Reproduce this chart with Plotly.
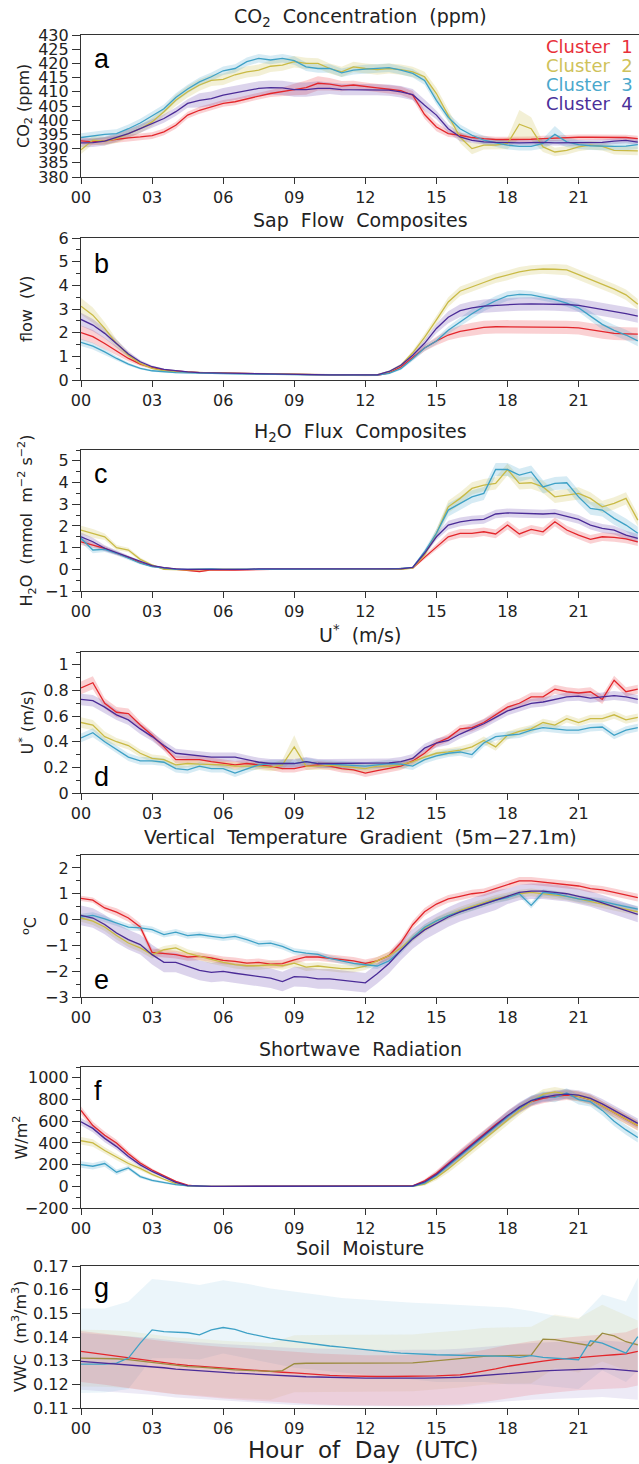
import plotly.graph_objects as go
from plotly.subplots import make_subplots

W, H = 639, 1464

hours = [0.0, 0.5, 1.0, 1.5, 2.0, 2.5, 3.0, 3.5, 4.0, 4.5, 5.0, 5.5,
         6.0, 6.5, 7.0, 7.5, 8.0, 8.5, 9.0, 9.5, 10.0, 10.5, 11.0, 11.5,
         12.0, 12.5, 13.0, 13.5, 14.0, 14.5, 15.0, 15.5, 16.0, 16.5, 17.0, 17.5,
         18.0, 18.5, 19.0, 19.5, 20.0, 20.5, 21.0, 21.5, 22.0, 22.5, 23.0, 23.5]
g_band_hours = [0, 1, 2, 3, 4, 5, 6, 7, 8, 9, 10, 11, 12, 13, 14, 15, 16, 17,
                18, 19, 20, 21, 22, 23, 23.5]
tick_hours = [0, 3, 6, 9, 12, 15, 18, 21]
tick_labels = ["00", "03", "06", "09", "12", "15", "18", "21"]
cluster_names = ["Cluster  1", "Cluster  2", "Cluster  3", "Cluster  4"]

# ---------------- (a) CO2 ----------------
a_c1 = [392.7, 392.4, 392.7, 393.3, 393.8, 394.1, 394.6, 395.9, 398.2, 401.8, 403.5, 404.7,
        405.9, 406.5, 407.6, 408.5, 409.4, 410.0, 410.8, 411.5, 413.0, 412.7, 412.0, 412.4,
        411.8, 411.4, 410.9, 410.4, 408.8, 402.0, 397.6, 395.3, 394.7, 393.9, 393.5, 393.2,
        393.2, 393.2, 393.3, 393.5, 393.7, 393.9, 394.0, 394.0, 394.0, 394.0, 393.9, 393.5]
a_c2 = [389.6, 393.0, 392.6, 393.5, 395.3, 397.0, 399.4, 403.0, 407.0, 410.0, 412.4, 414.0,
        414.4, 416.0, 417.0, 417.6, 419.0, 419.4, 420.6, 420.0, 420.0, 418.2, 417.0, 418.8,
        418.2, 417.8, 418.2, 417.8, 417.0, 415.3, 409.4, 401.8, 394.0, 390.0, 391.2, 391.2,
        391.8, 398.6, 397.0, 390.6, 388.8, 389.4, 390.6, 391.2, 390.8, 389.4, 389.2, 389.2]
a_c3 = [393.9, 394.5, 395.0, 395.3, 397.0, 399.0, 401.4, 404.0, 408.0, 411.0, 413.5, 415.3,
        417.4, 418.2, 420.6, 421.8, 421.2, 421.8, 421.0, 418.8, 418.2, 418.2, 416.7, 417.6,
        418.0, 418.2, 418.5, 417.6, 416.5, 414.0, 407.0, 401.0, 397.0, 394.7, 393.0, 392.0,
        391.2, 390.8, 390.8, 391.8, 395.0, 392.4, 391.4, 391.0, 390.8, 390.8, 390.9, 391.4]
a_c4 = [392.0, 392.1, 392.6, 393.9, 395.3, 397.0, 398.8, 400.6, 403.0, 405.9, 407.0, 407.6,
        408.8, 409.6, 410.4, 411.2, 411.5, 411.4, 410.8, 410.8, 411.2, 411.2, 410.8, 410.8,
        410.8, 410.8, 410.6, 410.0, 409.0, 405.3, 401.8, 397.0, 394.1, 392.9, 392.4, 392.2,
        392.0, 392.0, 392.1, 392.2, 392.0, 392.0, 392.0, 392.0, 392.2, 392.6, 392.9, 392.3]
a_s1 = [1.2, 1.2, 1.2, 1.2, 1.2, 1.2, 1.2, 1.2, 1.2, 1.2, 1.2, 1.2,
        1.2, 1.2, 1.2, 1.2, 1.2, 1.5, 2.0, 2.5, 2.5, 2.2, 1.8, 1.5,
        1.5, 1.5, 1.5, 1.5, 1.5, 1.5, 1.5, 1.2, 1.0, 1.0, 1.0, 1.0,
        1.0, 1.0, 1.0, 1.0, 1.0, 1.0, 1.0, 1.0, 1.0, 1.0, 1.0, 1.0]
a_s2 = [1.5, 1.5, 1.5, 1.5, 1.5, 1.5, 1.5, 1.5, 2.0, 2.0, 2.0, 2.0,
        2.0, 2.0, 2.0, 2.0, 2.0, 2.0, 2.0, 2.0, 1.8, 1.8, 1.8, 1.8,
        1.8, 1.8, 1.8, 1.8, 1.8, 1.8, 2.0, 2.0, 2.0, 2.0, 1.5, 1.5,
        2.0, 5.0, 4.0, 1.8, 1.5, 1.5, 1.5, 1.5, 1.5, 1.5, 1.5, 1.5]
a_s3 = [1.5, 1.5, 1.5, 1.5, 1.5, 1.5, 1.5, 1.5, 1.5, 1.5, 1.5, 1.5,
        1.5, 1.5, 1.5, 1.5, 1.5, 1.5, 1.5, 1.5, 1.5, 1.5, 1.5, 1.5,
        1.5, 1.5, 1.5, 1.5, 1.5, 1.5, 1.5, 1.5, 1.5, 1.5, 1.5, 1.5,
        1.5, 1.5, 1.5, 1.8, 3.0, 1.8, 1.5, 1.5, 1.5, 1.5, 1.5, 1.5]
a_s4 = [1.5, 1.5, 1.5, 1.5, 1.5, 1.5, 1.5, 1.5, 1.5, 1.5, 2.5, 2.5,
        2.5, 2.5, 2.5, 2.5, 2.5, 2.5, 2.5, 2.5, 2.5, 2.0, 2.0, 2.0,
        2.0, 2.0, 2.0, 2.0, 2.0, 2.0, 1.5, 1.5, 1.5, 1.0, 1.0, 1.0,
        1.0, 1.0, 1.0, 1.0, 1.0, 1.0, 1.0, 1.0, 1.0, 1.0, 1.0, 1.0]

# ---------------- (b) Sap flow ----------------
b_c1 = [2.00, 1.83, 1.54, 1.24, 0.91, 0.67, 0.52, 0.42, 0.37, 0.34, 0.31, 0.30,
        0.28, 0.27, 0.26, 0.25, 0.25, 0.24, 0.23, 0.23, 0.22, 0.22, 0.21, 0.21,
        0.19, 0.20, 0.30, 0.55, 0.95, 1.35, 1.65, 1.90, 2.05, 2.15, 2.22, 2.25,
        2.25, 2.24, 2.24, 2.24, 2.23, 2.22, 2.20, 2.12, 2.02, 1.97, 1.95, 1.94]
b_c2 = [3.12, 2.74, 2.18, 1.54, 1.05, 0.70, 0.49, 0.39, 0.34, 0.32, 0.31, 0.30,
        0.29, 0.28, 0.27, 0.26, 0.25, 0.24, 0.24, 0.23, 0.22, 0.22, 0.21, 0.21,
        0.21, 0.22, 0.35, 0.62, 1.15, 1.80, 2.54, 3.30, 3.75, 3.95, 4.12, 4.30,
        4.42, 4.57, 4.65, 4.69, 4.68, 4.65, 4.45, 4.25, 4.05, 3.84, 3.60, 3.20]
b_c3 = [1.59, 1.43, 1.19, 0.91, 0.67, 0.49, 0.39, 0.34, 0.31, 0.30, 0.28, 0.28,
        0.27, 0.26, 0.26, 0.25, 0.24, 0.24, 0.23, 0.22, 0.22, 0.21, 0.21, 0.20,
        0.20, 0.21, 0.28, 0.48, 0.90, 1.35, 1.65, 2.10, 2.45, 2.80, 3.10, 3.35,
        3.55, 3.62, 3.60, 3.50, 3.40, 3.25, 3.05, 2.70, 2.35, 2.10, 1.90, 1.65]
b_c4 = [2.56, 2.32, 1.97, 1.52, 1.10, 0.77, 0.56, 0.45, 0.38, 0.34, 0.31, 0.30,
        0.28, 0.28, 0.27, 0.26, 0.25, 0.25, 0.24, 0.23, 0.23, 0.22, 0.22, 0.21,
        0.21, 0.22, 0.36, 0.62, 1.05, 1.55, 2.18, 2.65, 2.93, 3.05, 3.12, 3.16,
        3.18, 3.21, 3.22, 3.22, 3.21, 3.19, 3.15, 3.07, 2.98, 2.90, 2.80, 2.70]
b_s1 = [0.30, 0.28, 0.24, 0.18, 0.12, 0.08, 0.05, 0.04, 0.03, 0.03, 0.03, 0.03,
        0.03, 0.03, 0.03, 0.03, 0.03, 0.03, 0.03, 0.03, 0.03, 0.03, 0.03, 0.03,
        0.03, 0.03, 0.04, 0.06, 0.10, 0.14, 0.18, 0.22, 0.25, 0.27, 0.28, 0.28,
        0.28, 0.28, 0.28, 0.28, 0.28, 0.28, 0.28, 0.28, 0.28, 0.28, 0.28, 0.28]
b_s2 = [0.35, 0.32, 0.26, 0.18, 0.12, 0.08, 0.05, 0.04, 0.03, 0.03, 0.03, 0.03,
        0.03, 0.03, 0.03, 0.03, 0.03, 0.03, 0.03, 0.03, 0.03, 0.03, 0.03, 0.03,
        0.03, 0.03, 0.04, 0.06, 0.10, 0.15, 0.18, 0.20, 0.20, 0.20, 0.20, 0.20,
        0.20, 0.20, 0.20, 0.20, 0.22, 0.22, 0.22, 0.22, 0.22, 0.22, 0.22, 0.22]
b_s3 = [0.15, 0.14, 0.12, 0.09, 0.07, 0.05, 0.04, 0.03, 0.03, 0.03, 0.03, 0.03,
        0.03, 0.03, 0.03, 0.03, 0.03, 0.03, 0.03, 0.03, 0.03, 0.03, 0.03, 0.03,
        0.03, 0.03, 0.04, 0.06, 0.10, 0.12, 0.14, 0.16, 0.18, 0.20, 0.20, 0.20,
        0.20, 0.18, 0.16, 0.15, 0.15, 0.15, 0.17, 0.20, 0.22, 0.22, 0.22, 0.22]
b_s4 = [0.28, 0.26, 0.22, 0.16, 0.11, 0.07, 0.05, 0.04, 0.03, 0.03, 0.03, 0.03,
        0.03, 0.03, 0.03, 0.03, 0.03, 0.03, 0.03, 0.03, 0.03, 0.03, 0.03, 0.03,
        0.03, 0.03, 0.04, 0.06, 0.10, 0.15, 0.20, 0.25, 0.27, 0.28, 0.28, 0.28,
        0.28, 0.28, 0.28, 0.28, 0.28, 0.28, 0.28, 0.28, 0.28, 0.28, 0.28, 0.28]

# ---------------- (c) H2O flux ----------------
c_c1 = [1.27, 1.12, 0.97, 0.74, 0.55, 0.31, 0.15, 0.06, 0.00, -0.05, -0.10, -0.03,
        -0.05, -0.04, -0.02, 0.00, 0.00, 0.00, 0.01, 0.00, 0.00, 0.00, 0.01, 0.00,
        0.00, 0.00, 0.01, 0.02, 0.05, 0.55, 1.04, 1.50, 1.66, 1.66, 1.73, 1.63,
        2.04, 1.63, 1.84, 1.73, 2.19, 1.81, 1.58, 1.38, 1.50, 1.47, 1.40, 1.27]
c_c2 = [1.81, 1.66, 1.50, 1.00, 0.89, 0.46, 0.20, 0.00, -0.02, -0.02, -0.01, 0.00,
        0.02, 0.00, 0.00, 0.00, 0.00, 0.00, 0.00, 0.01, 0.00, 0.00, 0.00, 0.00,
        0.00, 0.00, 0.00, 0.00, 0.05, 0.66, 1.66, 2.88, 3.27, 3.73, 3.88, 3.96,
        4.60, 3.96, 3.99, 3.80, 3.34, 3.42, 3.50, 3.27, 2.88, 3.04, 3.27, 2.27]
c_c3 = [1.43, 0.89, 0.92, 0.74, 0.51, 0.28, 0.12, 0.05, 0.00, 0.00, 0.02, 0.02,
        0.00, 0.00, 0.00, 0.00, 0.02, 0.00, 0.00, 0.00, 0.00, 0.00, 0.03, 0.02,
        0.00, 0.00, 0.02, 0.04, 0.09, 0.81, 1.66, 2.73, 3.04, 3.34, 3.50, 4.60,
        4.60, 4.34, 4.49, 3.80, 3.96, 3.99, 3.34, 2.81, 2.73, 2.35, 2.04, 1.66]
c_c4 = [1.50, 1.27, 0.97, 0.77, 0.58, 0.35, 0.17, 0.08, 0.02, 0.00, 0.00, 0.00,
        -0.02, -0.02, 0.00, 0.02, 0.02, 0.00, 0.00, 0.00, 0.00, 0.00, 0.00, 0.00,
        0.00, 0.00, 0.00, 0.02, 0.09, 0.74, 1.50, 2.04, 2.19, 2.27, 2.30, 2.55,
        2.60, 2.58, 2.58, 2.55, 2.58, 2.45, 2.30, 2.04, 1.89, 1.81, 1.58, 1.43]
c_s1 = [0.15, 0.13, 0.10, 0.08, 0.06, 0.05, 0.04, 0.03, 0.03, 0.03, 0.03, 0.03,
        0.03, 0.03, 0.03, 0.03, 0.03, 0.03, 0.03, 0.03, 0.03, 0.03, 0.03, 0.03,
        0.03, 0.03, 0.03, 0.03, 0.03, 0.10, 0.15, 0.20, 0.20, 0.20, 0.20, 0.20,
        0.20, 0.20, 0.20, 0.20, 0.20, 0.20, 0.20, 0.20, 0.20, 0.20, 0.20, 0.20]
c_s2 = [0.20, 0.20, 0.15, 0.12, 0.10, 0.08, 0.05, 0.03, 0.03, 0.03, 0.03, 0.03,
        0.03, 0.03, 0.03, 0.03, 0.03, 0.03, 0.03, 0.03, 0.03, 0.03, 0.03, 0.03,
        0.03, 0.03, 0.03, 0.03, 0.03, 0.10, 0.20, 0.28, 0.28, 0.28, 0.28, 0.28,
        0.28, 0.28, 0.28, 0.28, 0.28, 0.28, 0.28, 0.28, 0.28, 0.28, 0.28, 0.28]
c_s3 = [0.20, 0.15, 0.12, 0.10, 0.08, 0.06, 0.04, 0.03, 0.03, 0.03, 0.03, 0.03,
        0.03, 0.03, 0.03, 0.03, 0.03, 0.03, 0.03, 0.03, 0.03, 0.03, 0.03, 0.03,
        0.03, 0.03, 0.03, 0.03, 0.03, 0.10, 0.20, 0.30, 0.30, 0.30, 0.30, 0.30,
        0.30, 0.30, 0.30, 0.30, 0.30, 0.30, 0.30, 0.30, 0.30, 0.30, 0.30, 0.30]
c_s4 = [0.20, 0.18, 0.14, 0.10, 0.08, 0.06, 0.04, 0.03, 0.03, 0.03, 0.03, 0.03,
        0.03, 0.03, 0.03, 0.03, 0.03, 0.03, 0.03, 0.03, 0.03, 0.03, 0.03, 0.03,
        0.03, 0.03, 0.03, 0.03, 0.03, 0.10, 0.15, 0.20, 0.20, 0.20, 0.20, 0.20,
        0.20, 0.20, 0.20, 0.20, 0.20, 0.20, 0.20, 0.20, 0.20, 0.20, 0.20, 0.20]

# ---------------- (d) U* ----------------
d_c1 = [0.82, 0.86, 0.70, 0.63, 0.62, 0.53, 0.45, 0.36, 0.26, 0.26, 0.26, 0.245,
        0.23, 0.22, 0.23, 0.22, 0.21, 0.19, 0.19, 0.21, 0.22, 0.21, 0.19, 0.18,
        0.155, 0.175, 0.19, 0.21, 0.25, 0.31, 0.39, 0.43, 0.50, 0.51, 0.55, 0.61,
        0.67, 0.70, 0.75, 0.75, 0.81, 0.79, 0.78, 0.79, 0.73, 0.88, 0.79, 0.81]
d_c2 = [0.55, 0.53, 0.44, 0.40, 0.37, 0.31, 0.27, 0.26, 0.22, 0.23, 0.225, 0.225,
        0.22, 0.21, 0.21, 0.21, 0.20, 0.22, 0.36, 0.21, 0.21, 0.215, 0.21, 0.20,
        0.19, 0.21, 0.21, 0.22, 0.245, 0.28, 0.31, 0.32, 0.335, 0.36, 0.41, 0.36,
        0.45, 0.48, 0.50, 0.55, 0.53, 0.58, 0.55, 0.58, 0.58, 0.61, 0.57, 0.59]
d_c3 = [0.43, 0.47, 0.40, 0.34, 0.28, 0.25, 0.25, 0.24, 0.19, 0.18, 0.21, 0.19,
        0.19, 0.155, 0.19, 0.22, 0.23, 0.23, 0.23, 0.245, 0.23, 0.225, 0.22, 0.21,
        0.21, 0.22, 0.23, 0.225, 0.21, 0.26, 0.29, 0.31, 0.32, 0.30, 0.39, 0.44,
        0.45, 0.46, 0.49, 0.51, 0.50, 0.49, 0.49, 0.51, 0.515, 0.45, 0.49, 0.51]
d_c4 = [0.73, 0.72, 0.67, 0.61, 0.57, 0.50, 0.44, 0.37, 0.31, 0.30, 0.29, 0.28,
        0.28, 0.28, 0.26, 0.24, 0.23, 0.23, 0.23, 0.245, 0.23, 0.23, 0.23, 0.23,
        0.23, 0.23, 0.235, 0.245, 0.27, 0.35, 0.39, 0.41, 0.46, 0.50, 0.54, 0.59,
        0.64, 0.67, 0.70, 0.71, 0.73, 0.75, 0.755, 0.74, 0.75, 0.76, 0.75, 0.73]
d_s1 = [0.05, 0.05, 0.04, 0.04, 0.04, 0.03, 0.03, 0.03, 0.03, 0.03, 0.03, 0.03,
        0.03, 0.03, 0.03, 0.03, 0.03, 0.03, 0.03, 0.03, 0.03, 0.03, 0.03, 0.03,
        0.03, 0.03, 0.03, 0.03, 0.03, 0.03, 0.03, 0.03, 0.03, 0.03, 0.03, 0.03,
        0.035, 0.035, 0.035, 0.035, 0.035, 0.035, 0.035, 0.035, 0.035, 0.035, 0.035, 0.035]
d_s2 = [0.04, 0.04, 0.04, 0.03, 0.03, 0.03, 0.03, 0.03, 0.03, 0.03, 0.03, 0.03,
        0.03, 0.03, 0.03, 0.03, 0.03, 0.04, 0.09, 0.03, 0.03, 0.03, 0.03, 0.03,
        0.03, 0.03, 0.03, 0.03, 0.03, 0.03, 0.03, 0.03, 0.03, 0.03, 0.03, 0.03,
        0.03, 0.03, 0.03, 0.03, 0.03, 0.03, 0.03, 0.03, 0.03, 0.03, 0.03, 0.03]
d_s3 = [0.035, 0.035, 0.03, 0.03, 0.03, 0.03, 0.03, 0.03, 0.03, 0.03, 0.03, 0.03,
        0.03, 0.03, 0.03, 0.03, 0.03, 0.03, 0.03, 0.03, 0.03, 0.03, 0.03, 0.03,
        0.03, 0.03, 0.03, 0.03, 0.03, 0.03, 0.03, 0.03, 0.03, 0.03, 0.03, 0.03,
        0.03, 0.03, 0.03, 0.03, 0.03, 0.03, 0.03, 0.03, 0.03, 0.03, 0.03, 0.03]
d_s4 = [0.045, 0.045, 0.045, 0.04, 0.04, 0.04, 0.035, 0.035, 0.035, 0.035, 0.035, 0.035,
        0.035, 0.035, 0.035, 0.035, 0.035, 0.035, 0.035, 0.035, 0.035, 0.035, 0.035, 0.035,
        0.035, 0.035, 0.035, 0.035, 0.035, 0.035, 0.035, 0.035, 0.035, 0.035, 0.035, 0.035,
        0.035, 0.035, 0.035, 0.035, 0.035, 0.035, 0.035, 0.035, 0.035, 0.035, 0.035, 0.035]

# ---------------- (e) vertical temperature gradient ----------------
e_c1 = [0.82, 0.75, 0.45, 0.29, 0.06, -0.29, -1.27, -1.32, -1.36, -1.45, -1.43, -1.49,
        -1.58, -1.62, -1.69, -1.66, -1.73, -1.71, -1.56, -1.45, -1.45, -1.50, -1.55, -1.60,
        -1.70, -1.60, -1.40, -0.90, -0.20, 0.30, 0.60, 0.80, 0.90, 1.00, 1.05, 1.20,
        1.35, 1.50, 1.50, 1.45, 1.40, 1.35, 1.30, 1.20, 1.15, 1.05, 0.95, 0.85]
e_c2 = [0.06, -0.06, -0.29, -0.62, -0.91, -1.10, -1.36, -1.17, -1.10, -1.30, -1.43, -1.56,
        -1.66, -1.75, -1.79, -1.79, -1.75, -1.79, -1.69, -1.84, -1.80, -1.85, -1.90, -1.90,
        -1.80, -1.60, -1.40, -1.10, -0.70, -0.35, -0.05, 0.15, 0.35, 0.50, 0.65, 0.80,
        0.90, 1.00, 1.05, 1.00, 0.95, 0.90, 0.80, 0.70, 0.60, 0.50, 0.40, 0.30]
e_c3 = [0.10, 0.16, 0.03, -0.13, -0.29, -0.32, -0.39, -0.58, -0.49, -0.62, -0.58, -0.65,
        -0.71, -0.65, -0.78, -0.94, -0.91, -1.04, -1.23, -1.30, -1.35, -1.50, -1.60, -1.70,
        -1.75, -1.80, -1.60, -1.20, -0.70, -0.30, -0.05, 0.15, 0.30, 0.45, 0.60, 0.75,
        0.85, 1.00, 0.55, 1.05, 1.00, 0.90, 0.80, 0.75, 0.70, 0.60, 0.50, 0.40]
e_c4 = [0.16, 0.06, -0.19, -0.52, -0.78, -0.97, -1.36, -1.66, -1.66, -1.82, -1.97, -2.05,
        -2.01, -2.08, -2.14, -2.21, -2.27, -2.40, -2.21, -2.23, -2.30, -2.30, -2.35, -2.40,
        -2.45, -2.10, -1.70, -1.20, -0.75, -0.40, -0.15, 0.10, 0.30, 0.45, 0.60, 0.75,
        0.90, 1.05, 1.10, 1.10, 1.05, 1.00, 0.90, 0.80, 0.65, 0.50, 0.35, 0.20]
e_s1 = [0.10, 0.10, 0.12, 0.15, 0.15, 0.15, 0.15, 0.15, 0.15, 0.15, 0.15, 0.15,
        0.15, 0.15, 0.15, 0.15, 0.15, 0.15, 0.15, 0.15, 0.15, 0.15, 0.15, 0.15,
        0.15, 0.15, 0.15, 0.15, 0.15, 0.15, 0.15, 0.15, 0.15, 0.15, 0.15, 0.15,
        0.15, 0.15, 0.15, 0.15, 0.15, 0.15, 0.15, 0.15, 0.15, 0.15, 0.15, 0.15]
e_s2 = [0.15, 0.15, 0.15, 0.15, 0.15, 0.15, 0.15, 0.15, 0.15, 0.15, 0.15, 0.15,
        0.15, 0.15, 0.15, 0.15, 0.15, 0.15, 0.15, 0.15, 0.15, 0.15, 0.15, 0.15,
        0.15, 0.15, 0.15, 0.15, 0.15, 0.15, 0.15, 0.15, 0.15, 0.15, 0.15, 0.15,
        0.15, 0.15, 0.15, 0.15, 0.15, 0.15, 0.15, 0.15, 0.15, 0.15, 0.15, 0.15]
e_s3 = [0.12, 0.12, 0.12, 0.12, 0.12, 0.12, 0.12, 0.12, 0.12, 0.12, 0.12, 0.12,
        0.12, 0.12, 0.12, 0.12, 0.12, 0.12, 0.12, 0.12, 0.12, 0.12, 0.12, 0.12,
        0.12, 0.12, 0.12, 0.12, 0.12, 0.12, 0.12, 0.12, 0.12, 0.12, 0.12, 0.12,
        0.12, 0.12, 0.12, 0.12, 0.12, 0.12, 0.12, 0.12, 0.12, 0.12, 0.12, 0.12]
e_s4 = [0.38, 0.38, 0.38, 0.38, 0.38, 0.38, 0.38, 0.38, 0.38, 0.38, 0.38, 0.38,
        0.38, 0.38, 0.38, 0.38, 0.38, 0.38, 0.38, 0.38, 0.38, 0.38, 0.38, 0.38,
        0.38, 0.38, 0.38, 0.38, 0.38, 0.38, 0.38, 0.38, 0.38, 0.38, 0.38, 0.38,
        0.30, 0.30, 0.30, 0.30, 0.30, 0.30, 0.30, 0.30, 0.30, 0.30, 0.30, 0.30]

# ---------------- (f) shortwave radiation ----------------
f_c1 = [700, 560, 470, 400, 300, 215, 150, 95, 45, 10, 0, 0,
        0, 0, 0, 0, 0, 0, 0, 0, 0, 0, 0, 0,
        0, 0, 0, 0, 5, 50, 120, 210, 300, 390, 480, 570,
        650, 720, 780, 810, 830, 840, 830, 800, 740, 680, 620, 560]
f_c2 = [420, 400, 330, 270, 210, 165, 110, 65, 25, 5, 0, 0,
        0, 0, 0, 0, 0, 0, 0, 0, 0, 0, 0, 0,
        0, 0, 0, 0, 0, 20, 80, 160, 250, 340, 430, 520,
        610, 700, 780, 850, 870, 850, 830, 800, 740, 680, 620, 560]
f_c3 = [200, 185, 210, 130, 170, 90, 55, 35, 15, 5, 0, 0,
        0, 0, 0, 0, 0, 0, 0, 0, 0, 0, 0, 0,
        0, 0, 0, 0, 0, 30, 100, 190, 280, 370, 460, 550,
        640, 720, 790, 830, 820, 860, 800, 780, 700, 600, 520, 450]
f_c4 = [595, 534, 442, 366, 274, 198, 137, 85, 37, 6, 0, 0,
        0, 0, 0, 0, 0, 0, 0, 0, 0, 0, 0, 0,
        0, 0, 0, 0, 3, 40, 110, 200, 290, 380, 470, 560,
        650, 730, 790, 820, 840, 850, 840, 810, 760, 700, 640, 580]
f_s1 = [35, 35, 35, 30, 25, 20, 15, 10, 8, 5, 2, 2,
        2, 2, 2, 2, 2, 2, 2, 2, 2, 2, 2, 2,
        2, 2, 2, 2, 5, 15, 25, 35, 40, 40, 40, 40,
        45, 45, 45, 45, 45, 45, 45, 45, 45, 45, 45, 45]
f_s2 = [35, 35, 30, 30, 25, 20, 15, 10, 8, 5, 2, 2,
        2, 2, 2, 2, 2, 2, 2, 2, 2, 2, 2, 2,
        2, 2, 2, 2, 5, 15, 25, 35, 40, 40, 40, 40,
        45, 45, 45, 45, 45, 45, 45, 45, 45, 45, 45, 45]
f_s3 = [30, 30, 30, 25, 20, 15, 12, 10, 8, 5, 2, 2,
        2, 2, 2, 2, 2, 2, 2, 2, 2, 2, 2, 2,
        2, 2, 2, 2, 5, 15, 25, 35, 40, 40, 40, 40,
        45, 45, 45, 45, 45, 45, 45, 45, 45, 45, 45, 45]
f_s4 = [35, 35, 35, 30, 25, 20, 15, 10, 8, 5, 2, 2,
        2, 2, 2, 2, 2, 2, 2, 2, 2, 2, 2, 2,
        2, 2, 2, 2, 5, 15, 25, 35, 40, 40, 40, 40,
        45, 45, 45, 45, 45, 45, 45, 45, 45, 45, 45, 45]

# ---------------- (g) soil moisture ----------------
g_c1 = [0.1339, 0.1332, 0.1325, 0.1318, 0.1311, 0.1304, 0.1297, 0.1291, 0.1285, 0.1280, 0.1276, 0.1272,
        0.1269, 0.1265, 0.1262, 0.1258, 0.1255, 0.1251, 0.1248, 0.1244, 0.1240, 0.1238, 0.1236, 0.1234,
        0.1233, 0.1233, 0.1233, 0.1233, 0.1233, 0.1234, 0.1236, 0.1238, 0.1240, 0.1247, 0.1255, 0.1265,
        0.1276, 0.1284, 0.1292, 0.1298, 0.1304, 0.1309, 0.1314, 0.1318, 0.1321, 0.1325, 0.1329, 0.1339]
g_c2 = [0.1311, 0.1311, 0.1310, 0.1308, 0.1304, 0.1298, 0.1292, 0.1285, 0.1278, 0.1275, 0.1273, 0.1268,
        0.1264, 0.1261, 0.1259, 0.1257, 0.1255, 0.1258, 0.1287, 0.1289, 0.1290, 0.1290, 0.1290, 0.1290,
        0.1290, 0.1290, 0.1290, 0.1290, 0.1291, 0.1295, 0.1300, 0.1303, 0.1307, 0.1312, 0.1318, 0.1320,
        0.1322, 0.1322, 0.1323, 0.1391, 0.1389, 0.1380, 0.1370, 0.1363, 0.1416, 0.1405, 0.1380, 0.1367]
g_c3 = [0.1285, 0.1285, 0.1286, 0.1290, 0.1311, 0.1374, 0.1430, 0.1423, 0.1419, 0.1418, 0.1409, 0.1430,
        0.1440, 0.1432, 0.1416, 0.1405, 0.1395, 0.1388, 0.1381, 0.1374, 0.1367, 0.1362, 0.1357, 0.1351,
        0.1346, 0.1341, 0.1336, 0.1332, 0.1329, 0.1327, 0.1325, 0.1324, 0.1323, 0.1322, 0.1321, 0.1320,
        0.1318, 0.1314, 0.1321, 0.1314, 0.1311, 0.1307, 0.1304, 0.1384, 0.1374, 0.1353, 0.1332, 0.1402]
g_c4 = [0.1297, 0.1293, 0.1290, 0.1287, 0.1283, 0.1280, 0.1276, 0.1270, 0.1264, 0.1260, 0.1256, 0.1253,
        0.1250, 0.1247, 0.1245, 0.1242, 0.1239, 0.1236, 0.1233, 0.1232, 0.1231, 0.1229, 0.1228, 0.1227,
        0.1226, 0.1226, 0.1225, 0.1225, 0.1226, 0.1226, 0.1226, 0.1228, 0.1230, 0.1234, 0.1238, 0.1243,
        0.1248, 0.1252, 0.1255, 0.1257, 0.1259, 0.1260, 0.1262, 0.1264, 0.1266, 0.1263, 0.1258, 0.1255]
# band limits (hourly)
g_lo1 = [0.1210, 0.1198, 0.1185, 0.1170, 0.1158, 0.1148, 0.1140, 0.1133, 0.1126, 0.1120, 0.1115, 0.1112,
         0.1110, 0.1110, 0.1110, 0.1112, 0.1115, 0.1125, 0.1140, 0.1155, 0.1165, 0.1175, 0.1180, 0.1185, 0.1195]
g_hi1 = [0.1425, 0.1415, 0.1402, 0.1388, 0.1376, 0.1366, 0.1358, 0.1352, 0.1345, 0.1338, 0.1330, 0.1326,
         0.1323, 0.1323, 0.1323, 0.1326, 0.1330, 0.1345, 0.1366, 0.1382, 0.1394, 0.1404, 0.1411, 0.1420, 0.1440]
g_lo2 = [0.1191, 0.1190, 0.1184, 0.1172, 0.1158, 0.1153, 0.1144, 0.1139, 0.1135, 0.1167, 0.1170, 0.1170,
         0.1170, 0.1170, 0.1171, 0.1180, 0.1187, 0.1198, 0.1202, 0.1203, 0.1269, 0.1250, 0.1296, 0.1260, 0.1247]
g_hi2 = [0.1431, 0.1430, 0.1424, 0.1412, 0.1398, 0.1393, 0.1384, 0.1379, 0.1375, 0.1407, 0.1410, 0.1410,
         0.1410, 0.1410, 0.1411, 0.1420, 0.1427, 0.1438, 0.1442, 0.1443, 0.1495, 0.1480, 0.1536, 0.1490, 0.1470]
g_lo3 = [0.1163, 0.1165, 0.1180, 0.1310, 0.1310, 0.1305, 0.1330, 0.1310, 0.1290, 0.1270, 0.1260, 0.1250,
         0.1240, 0.1230, 0.1220, 0.1210, 0.1210, 0.1210, 0.1200, 0.1200, 0.1190, 0.1180, 0.1260, 0.1210, 0.1260]
g_hi3 = [0.1520, 0.1520, 0.1550, 0.1645, 0.1635, 0.1620, 0.1640, 0.1625, 0.1605, 0.1590, 0.1578, 0.1565,
         0.1558, 0.1550, 0.1545, 0.1540, 0.1535, 0.1530, 0.1525, 0.1510, 0.1490, 0.1475, 0.1580, 0.1550, 0.1650]
g_lo4 = [0.1177, 0.1170, 0.1163, 0.1156, 0.1144, 0.1136, 0.1130, 0.1125, 0.1119, 0.1113, 0.1111, 0.1108,
         0.1106, 0.1105, 0.1106, 0.1106, 0.1110, 0.1118, 0.1128, 0.1135, 0.1139, 0.1142, 0.1146, 0.1138, 0.1135]
g_hi4 = [0.1417, 0.1410, 0.1403, 0.1396, 0.1384, 0.1376, 0.1370, 0.1365, 0.1359, 0.1353, 0.1351, 0.1348,
         0.1346, 0.1345, 0.1346, 0.1346, 0.1350, 0.1358, 0.1368, 0.1375, 0.1379, 0.1382, 0.1386, 0.1378, 0.1375]

# ---------------- styling ----------------
line_colors = ["#e3262b", "#c9ba45", "#3ea1c6", "#4a2b97"]
band_rgb = [(232, 45, 55), (200, 185, 70), (70, 165, 205), (95, 60, 170)]
g_line_colors = ["#e3262b", "#9c8c40", "#3ea1c6", "#4a2b97"]
legend_colors = ["#e8303a", "#cfc25a", "#4aa8cc", "#4b2f9a"]
FONT = "DejaVu Sans"

panels = [
    dict(title="CO<sub>2</sub>  Concentration  (ppm)", ylab="CO<sub>2</sub> (ppm)", letter="a",
         vals=[a_c1, a_c2, a_c3, a_c4], spr=[a_s1, a_s2, a_s3, a_s4],
         yr=[380, 430], dt=5, minor=None, fmt=None, top=35, bot=177, ly=59),
    dict(title="Sap  Flow  Composites", ylab="flow  (V)", letter="b",
         vals=[b_c1, b_c2, b_c3, b_c4], spr=[b_s1, b_s2, b_s3, b_s4],
         yr=[0, 6], dt=1, minor=0.5, fmt=None, top=238, bot=380, ly=264),
    dict(title="H<sub>2</sub>O  Flux  Composites", ylab="H<sub>2</sub>O  (mmol  m<sup>−2</sup> s<sup>−2</sup>)", letter="c",
         vals=[c_c1, c_c2, c_c3, c_c4], spr=[c_s1, c_s2, c_s3, c_s4],
         yr=[-1, 5.5], dt=1, minor=0.5, fmt=None, top=450, bot=591, ly=474),
    dict(title="U<sup>*</sup>  (m/s)", ylab="U<sup>*</sup> (m/s)", letter="d",
         vals=[d_c1, d_c2, d_c3, d_c4], spr=[d_s1, d_s2, d_s3, d_s4],
         yr=[0, 1.1], dt=0.2, minor=0.1, fmt=None, top=652, bot=793, ly=777),
    dict(title="Vertical  Temperature  Gradient  (5m−27.1m)", ylab="<sup>o</sup>C", letter="e",
         vals=[e_c1, e_c2, e_c3, e_c4], spr=[e_s1, e_s2, e_s3, e_s4],
         yr=[-3, 2.5], dt=1, minor=0.5, fmt=None, top=855, bot=997, ly=980),
    dict(title="Shortwave  Radiation", ylab="W/m<sup>2</sup>", letter="f",
         vals=[f_c1, f_c2, f_c3, f_c4], spr=[f_s1, f_s2, f_s3, f_s4],
         yr=[-200, 1100], dt=200, minor=100, fmt=None, top=1067, bot=1208, ly=1091),
    dict(title="Soil  Moisture", ylab="VWC  (m<sup>3</sup>/m<sup>3</sup>)", letter="g",
         vals=[g_c1, g_c2, g_c3, g_c4], spr=None,
         yr=[0.11, 0.17], dt=0.01, minor=None, fmt=".2f", top=1266, bot=1408, ly=1288),
]
ylab_x = [24, 26, 27, 27, 29, 21, 19]
g_bands = [(g_lo1, g_hi1), (g_lo2, g_hi2), (g_lo3, g_hi3), (g_lo4, g_hi4)]

fig = make_subplots(rows=7, cols=1)

for r, p in enumerate(panels, start=1):
    # bands
    if p["spr"] is not None:
        for k in range(4):
            lo = [v - s for v, s in zip(p["vals"][k], p["spr"][k])]
            hi = [v + s for v, s in zip(p["vals"][k], p["spr"][k])]
            rr, gg, bb = band_rgb[k]
            fig.add_trace(go.Scatter(x=hours + hours[::-1], y=hi + lo[::-1], fill="toself",
                                     fillcolor=f"rgba({rr},{gg},{bb},0.22)", line=dict(width=0),
                                     mode="lines", hoverinfo="skip", showlegend=False), row=r, col=1)
    else:
        for k in [2, 1, 3, 0]:
            lo, hi = g_bands[k]
            rr, gg, bb = band_rgb[k]
            alpha = 0.11 if k != 0 else 0.14
            fig.add_trace(go.Scatter(x=g_band_hours + g_band_hours[::-1], y=hi + lo[::-1], fill="toself",
                                     fillcolor=f"rgba({rr},{gg},{bb},{alpha})", line=dict(width=0),
                                     mode="lines", hoverinfo="skip", showlegend=False), row=r, col=1)
    cols = g_line_colors if p["spr"] is None else line_colors
    for k in range(4):
        fig.add_trace(go.Scatter(x=hours, y=p["vals"][k], mode="lines",
                                 line=dict(color=cols[k], width=1.3),
                                 name=cluster_names[k], showlegend=False), row=r, col=1)

    ydom = [1 - p["bot"] / H, 1 - p["top"] / H]
    xkey = "xaxis" if r == 1 else f"xaxis{r}"
    ykey = "yaxis" if r == 1 else f"yaxis{r}"
    fig.layout[xkey].update(domain=[81 / W, 1.0], range=[0, 23.55], tickmode="array",
                            tickvals=tick_hours, ticktext=tick_labels, ticks="outside", ticklen=6,
                            tickwidth=1.2, tickcolor="#333", showline=True, linecolor="#333",
                            linewidth=1.2, mirror=True, showgrid=False, zeroline=False,
                            automargin=False,
                            tickfont=dict(family=FONT, size=16, color="#222"))
    yupd = dict(domain=ydom, range=p["yr"], tickmode="linear", tick0=p["yr"][0] if p["yr"][0] != -200 else 0,
                dtick=p["dt"], ticks="outside", ticklen=8, tickwidth=1.2, tickcolor="#333",
                showline=True, linecolor="#333", linewidth=1.2, showgrid=False, zeroline=False,
                automargin=False,
                tickfont=dict(family=FONT, size=16, color="#222"))
    if p["fmt"]:
        yupd["tickformat"] = p["fmt"]
    if p["minor"]:
        yupd["minor"] = dict(dtick=p["minor"], tick0=p["yr"][0], ticks="outside", ticklen=4,
                             tickcolor="#333", tickwidth=1, showgrid=False)
    fig.layout[ykey].update(**yupd)

    # titles and labels
    fig.add_annotation(text=p["title"], xref="paper", yref="paper", x=360 / W, y=1 - (p["top"] - 18) / H,
                       xanchor="center", yanchor="middle", showarrow=False,
                       font=dict(family=FONT, size=19, color="#222"))
    fig.add_annotation(text=p["ylab"], xref="paper", yref="paper", x=ylab_x[r - 1] / W,
                       y=1 - (p["top"] + p["bot"]) / 2 / H, textangle=-90,
                       xanchor="center", yanchor="middle", showarrow=False,
                       font=dict(family=FONT, size=16, color="#222"))
    fig.add_annotation(text=p["letter"], xref="paper", yref="paper", x=92 / W, y=1 - p["ly"] / H,
                       xanchor="left", yanchor="middle", showarrow=False,
                       font=dict(family="Liberation Sans", size=27, color="#000"))

# legend in panel a
legend_y = [46.5, 65.5, 84.5, 103.5]
for k in range(4):
    fig.add_annotation(text=cluster_names[k], xref="paper", yref="paper", x=635 / W, y=1 - legend_y[k] / H,
                       xanchor="right", yanchor="middle", showarrow=False,
                       font=dict(family=FONT, size=18, color=legend_colors[k]))

fig.add_annotation(text="Hour  of  Day  (UTC)", xref="paper", yref="paper", x=363 / W, y=1 - 1450 / H,
                   xanchor="center", yanchor="middle", showarrow=False,
                   font=dict(family=FONT, size=23, color="#222"))

fig.update_layout(width=W, height=H, margin=dict(l=0, r=0, t=0, b=0, autoexpand=False),
                  paper_bgcolor="white", plot_bgcolor="white", showlegend=False,
                  font=dict(family=FONT))

fig.write_html("out.html", config={"displayModeBar": False},
               post_script="document.body.style.margin='0px';document.body.style.overflow='hidden';")
